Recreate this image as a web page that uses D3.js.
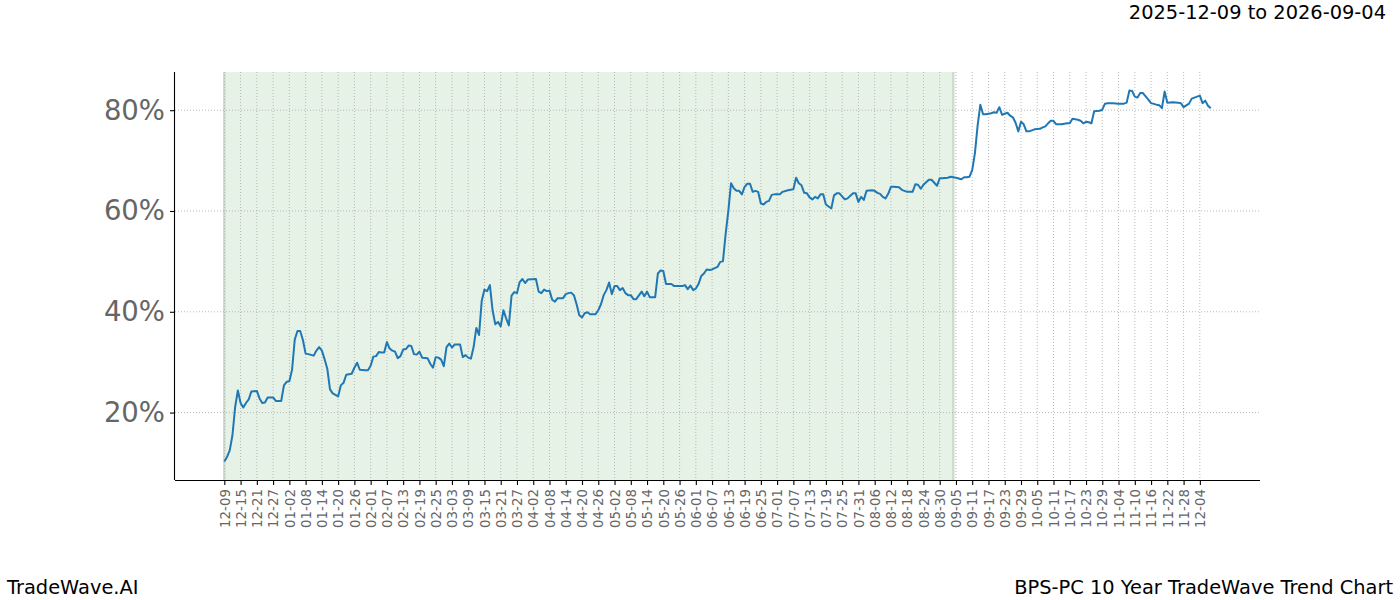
<!DOCTYPE html>
<html><head><meta charset="utf-8">
<script src="https://cdn.jsdelivr.net/npm/d3@7"></script>
<style>
body{margin:0;background:#fff}
svg{display:block}
text{font-family:"DejaVu Sans",sans-serif}
</style>
</head><body>
<svg id="c" width="1400" height="600"></svg>
<script>
const dates = [
"2025-12-09","2025-12-10","2025-12-11","2025-12-12","2025-12-13","2025-12-14","2025-12-15","2025-12-16","2025-12-17","2025-12-18",
"2025-12-19","2025-12-21","2025-12-22","2025-12-23","2025-12-24","2025-12-25","2025-12-27","2025-12-28","2025-12-30","2025-12-31",
"2026-01-01","2026-01-02","2026-01-03","2026-01-04","2026-01-05","2026-01-06","2026-01-07","2026-01-08","2026-01-09","2026-01-11",
"2026-01-12","2026-01-13","2026-01-14","2026-01-15","2026-01-16","2026-01-17","2026-01-18","2026-01-20","2026-01-21","2026-01-22",
"2026-01-23","2026-01-25","2026-01-26","2026-01-27","2026-01-28","2026-01-30","2026-01-31","2026-02-01","2026-02-02","2026-02-03",
"2026-02-04","2026-02-05","2026-02-06","2026-02-07","2026-02-08","2026-02-09","2026-02-10","2026-02-11","2026-02-12","2026-02-13",
"2026-02-14","2026-02-15","2026-02-16","2026-02-17","2026-02-18","2026-02-19","2026-02-20","2026-02-22","2026-02-23","2026-02-24",
"2026-02-25","2026-02-26","2026-02-27","2026-02-28","2026-03-01","2026-03-02","2026-03-03","2026-03-04","2026-03-06","2026-03-07",
"2026-03-08","2026-03-09","2026-03-10","2026-03-11","2026-03-12","2026-03-13","2026-03-14","2026-03-15","2026-03-16","2026-03-17",
"2026-03-18","2026-03-19","2026-03-20","2026-03-21","2026-03-22","2026-03-23","2026-03-24","2026-03-25","2026-03-26","2026-03-27",
"2026-03-28","2026-03-29","2026-03-30","2026-03-31","2026-04-03","2026-04-04","2026-04-05","2026-04-06","2026-04-07","2026-04-08",
"2026-04-09","2026-04-10","2026-04-11","2026-04-13","2026-04-14","2026-04-15","2026-04-16","2026-04-17","2026-04-18","2026-04-19",
"2026-04-20","2026-04-21","2026-04-22","2026-04-23","2026-04-25","2026-04-26","2026-04-27","2026-04-28","2026-04-29","2026-04-30",
"2026-05-01","2026-05-02","2026-05-03","2026-05-04","2026-05-05","2026-05-06","2026-05-07","2026-05-08","2026-05-09","2026-05-10",
"2026-05-12","2026-05-13","2026-05-14","2026-05-15","2026-05-17","2026-05-18","2026-05-19","2026-05-20","2026-05-21","2026-05-23",
"2026-05-24","2026-05-27","2026-05-28","2026-05-29","2026-05-30","2026-05-31","2026-06-01","2026-06-02","2026-06-03","2026-06-04",
"2026-06-05","2026-06-06","2026-06-07","2026-06-09","2026-06-10","2026-06-11","2026-06-12","2026-06-13","2026-06-14","2026-06-15",
"2026-06-16","2026-06-17","2026-06-18","2026-06-19","2026-06-20","2026-06-21","2026-06-22","2026-06-23","2026-06-24","2026-06-25",
"2026-06-26","2026-06-27","2026-06-28","2026-06-29","2026-06-30","2026-07-02","2026-07-03","2026-07-05","2026-07-07","2026-07-08",
"2026-07-09","2026-07-10","2026-07-11","2026-07-12","2026-07-13","2026-07-14","2026-07-15","2026-07-16","2026-07-17","2026-07-18",
"2026-07-19","2026-07-21","2026-07-22","2026-07-23","2026-07-24","2026-07-26","2026-07-27","2026-07-29","2026-07-30","2026-07-31",
"2026-08-01","2026-08-02","2026-08-03","2026-08-05","2026-08-06","2026-08-07","2026-08-08","2026-08-09","2026-08-10","2026-08-11",
"2026-08-12","2026-08-13","2026-08-15","2026-08-16","2026-08-17","2026-08-18","2026-08-20","2026-08-21","2026-08-22","2026-08-23",
"2026-08-24","2026-08-26","2026-08-27","2026-08-29","2026-08-30","2026-08-31","2026-09-02","2026-09-03","2026-09-05","2026-09-07",
"2026-09-08","2026-09-09","2026-09-10","2026-09-11","2026-09-12","2026-09-13","2026-09-14","2026-09-15","2026-09-16","2026-09-18",
"2026-09-19","2026-09-20","2026-09-21","2026-09-22","2026-09-23","2026-09-24","2026-09-25","2026-09-26","2026-09-27","2026-09-28",
"2026-09-29","2026-09-30","2026-10-01","2026-10-02","2026-10-04","2026-10-06","2026-10-07","2026-10-08","2026-10-09","2026-10-10",
"2026-10-11","2026-10-12","2026-10-14","2026-10-16","2026-10-17","2026-10-18","2026-10-20","2026-10-21","2026-10-22","2026-10-23",
"2026-10-24","2026-10-25","2026-10-26","2026-10-28","2026-10-29","2026-10-30","2026-10-31","2026-11-02","2026-11-04","2026-11-06",
"2026-11-07","2026-11-08","2026-11-09","2026-11-10","2026-11-11","2026-11-12","2026-11-13","2026-11-15","2026-11-16","2026-11-18",
"2026-11-19","2026-11-20","2026-11-21","2026-11-22","2026-11-24","2026-11-26","2026-11-27","2026-11-28","2026-11-30","2026-12-01",
"2026-12-02","2026-12-04","2026-12-05","2026-12-06","2026-12-07","2026-12-08"
];
const values = [
10.3,11.2,12.5,15.5,21.1,24.4,21.9,21.0,21.9,22.6,
24.2,24.3,22.8,21.9,22.0,23.0,23.0,22.3,22.3,25.4,
26.1,26.2,28.5,34.5,36.2,36.2,34.4,31.7,31.6,31.3,
32.3,33.0,32.3,30.6,28.7,24.6,23.8,23.2,25.4,25.9,
27.5,27.7,28.9,29.9,28.5,28.4,28.4,29.3,31.1,31.2,
32.0,31.9,31.9,34.0,32.7,32.3,32.1,30.8,31.2,32.5,
32.6,33.3,33.2,31.6,31.5,32.1,30.9,30.8,29.7,28.9,
31.0,30.9,30.5,29.2,33.0,33.7,32.9,33.5,33.5,31.0,
31.4,30.9,30.7,33.0,36.8,35.4,42.2,44.4,44.1,45.3,
40.3,37.5,38.0,37.1,40.3,38.7,37.3,43.2,43.9,43.7,
45.9,46.5,45.7,46.4,46.5,44.0,43.7,44.4,44.1,44.2,
42.4,42.0,42.7,42.7,43.5,43.7,43.8,43.3,41.5,39.3,
38.9,39.7,39.9,39.5,39.5,40.3,41.5,43.3,44.3,45.8,
43.5,45.1,45.1,44.3,44.7,43.7,43.3,43.3,42.5,42.5,
44.0,43.1,44.0,42.9,42.9,47.6,48.2,48.1,45.5,45.5,
45.1,45.1,45.3,44.5,45.2,44.3,44.6,45.5,47.1,47.6,
48.4,48.3,48.4,48.9,49.9,50.0,55.4,60.0,65.5,64.5,
64.0,64.0,63.3,64.8,65.4,65.4,63.8,64.0,63.8,61.5,
61.3,61.8,62.0,63.2,63.3,63.3,63.8,64.1,64.3,66.6,
65.5,65.1,63.6,63.5,62.7,62.3,62.8,62.5,63.3,63.3,
61.3,60.5,63.1,63.5,63.5,62.3,62.5,63.5,63.5,61.8,
62.8,62.2,64.0,64.1,64.0,63.6,63.4,62.8,62.5,63.4,
64.8,64.8,64.7,64.2,64.0,63.8,63.8,65.3,65.2,64.4,
65.2,66.2,66.2,65.0,66.5,66.5,66.6,66.8,66.6,66.3,
66.7,66.7,66.8,68.1,71.5,77.0,81.1,79.2,79.2,79.4,
79.6,79.5,80.6,79.1,79.3,79.5,78.9,78.6,77.5,75.8,
77.7,77.2,75.8,75.8,76.2,76.3,76.6,76.8,77.4,77.9,
77.9,77.2,77.2,77.4,77.4,78.3,78.1,77.9,77.4,77.7,
77.6,77.4,79.8,79.9,80.1,81.3,81.4,81.4,81.3,81.3,
81.5,83.9,83.8,82.7,82.5,83.4,83.4,82.1,81.4,81.1,
81.0,80.4,83.7,81.5,81.6,81.5,81.4,80.6,81.3,82.3,
82.5,82.9,81.4,81.9,80.9,80.4
];
const xTickDates = [
"2025-12-09","2025-12-15","2025-12-21","2025-12-27","2026-01-02","2026-01-08","2026-01-14","2026-01-20","2026-01-26",
"2026-02-01","2026-02-07","2026-02-13","2026-02-19","2026-02-25","2026-03-03","2026-03-09","2026-03-15","2026-03-21","2026-03-27",
"2026-04-02","2026-04-08","2026-04-14","2026-04-20","2026-04-26","2026-05-02","2026-05-08","2026-05-14","2026-05-20","2026-05-26",
"2026-06-01","2026-06-07","2026-06-13","2026-06-19","2026-06-25","2026-07-01","2026-07-07","2026-07-13","2026-07-19","2026-07-25",
"2026-07-31","2026-08-06","2026-08-12","2026-08-18","2026-08-24","2026-08-30","2026-09-05","2026-09-11","2026-09-17","2026-09-23",
"2026-09-29","2026-10-05","2026-10-11","2026-10-17","2026-10-23","2026-10-29","2026-11-04","2026-11-10","2026-11-16","2026-11-22",
"2026-11-28","2026-12-04"
];
const yTicks = [20, 40, 60, 80];
const shadeRange = ["2025-12-09", "2026-09-04"];
const titleText = "2025-12-09 to 2026-09-04";
const leftFooter = "TradeWave.AI";
const rightFooter = "BPS-PC 10 Year TradeWave Trend Chart";

const parse = d3.utcParse("%Y-%m-%d");
const data = dates.map((d, i) => ({date: parse(d), value: values[i]}));

const svg = d3.select("#c");
const L = 175, R = 1260, T = 72, B = 480;

const xExt = d3.extent(data, d => +d.date);
const xPad = (xExt[1] - xExt[0]) * 0.05;
const x = d3.scaleUtc().domain([new Date(xExt[0] - xPad), new Date(xExt[1] + xPad)]).range([L, R]);
const yExt = d3.extent(values);
const yPad = (yExt[1] - yExt[0]) * 0.05;
const y = d3.scaleLinear().domain([yExt[0] - yPad, yExt[1] + yPad]).range([B, T]);

// shaded span
const s0 = x(parse(shadeRange[0])), s1 = x(parse(shadeRange[1]));
svg.append("rect").attr("x", s0).attr("y", T).attr("width", s1 - s0).attr("height", B - T)
  .attr("fill", "rgb(230,242,230)");
[s0, s1].forEach(sx => {
  svg.append("line").attr("x1", sx).attr("x2", sx).attr("y1", T).attr("y2", B)
    .attr("stroke", "rgb(208,220,208)").attr("stroke-width", 2.5);
});

const tickDates = xTickDates.map(parse);
// grid
const grid = svg.append("g");
grid.selectAll("line.v").data(tickDates).enter().append("line")
  .attr("x1", d => x(d)).attr("x2", d => x(d)).attr("y1", T).attr("y2", B)
  .attr("stroke", "#a8a8a8").attr("stroke-width", 0.8).attr("stroke-dasharray", "1,2");
grid.selectAll("line.h").data(yTicks).enter().append("line")
  .attr("x1", L).attr("x2", R).attr("y1", d => y(d)).attr("y2", d => y(d))
  .attr("stroke", "#a8a8a8").attr("stroke-width", 0.8).attr("stroke-dasharray", "1,2");

// line
svg.append("path").datum(data)
  .attr("fill", "none").attr("stroke", "#1f77b4").attr("stroke-width", 2)
  .attr("stroke-linejoin", "round")
  .attr("d", d3.line().x(d => x(d.date)).y(d => y(d.value)));

// axes
const fmt = d3.utcFormat("%m-%d");
const xAxis = svg.append("g").attr("transform", `translate(0,${B})`)
  .call(d3.axisBottom(x).tickValues(tickDates).tickFormat(fmt).tickSize(5).tickSizeOuter(0));
xAxis.select(".domain").attr("stroke", "#000").attr("stroke-width", 1.1).attr("d", `M${L},0.5H${R}`);
xAxis.selectAll(".tick line").attr("stroke", "#000").attr("stroke-width", 1.1);
xAxis.selectAll(".tick text")
  .attr("fill", "#666").style("font-size", "13.4px")
  .attr("text-anchor", "end")
  .attr("transform", "translate(0,9) rotate(-90)")
  .attr("x", 0).attr("y", 0).attr("dy", "0.35em");

const yAxis = svg.append("g").attr("transform", `translate(${L},0)`)
  .call(d3.axisLeft(y).tickValues(yTicks).tickFormat(d => d + "%").tickSize(5).tickPadding(5).tickSizeOuter(0));
yAxis.select(".domain").attr("stroke", "#000").attr("stroke-width", 1.1).attr("d", `M-0.5,${T}V${B}`);
yAxis.selectAll(".tick line").attr("stroke", "#000").attr("stroke-width", 1.1);
yAxis.selectAll(".tick text").attr("fill", "#666").style("font-size", "27.5px");

// texts
svg.append("text").attr("x", 1386).attr("y", 19).attr("text-anchor", "end")
  .style("font-size", "19.4px").attr("fill", "#000").text(titleText);
svg.append("text").attr("x", 7).attr("y", 594)
  .style("font-size", "19.4px").attr("fill", "#000").text(leftFooter);
svg.append("text").attr("x", 1393).attr("y", 594).attr("text-anchor", "end")
  .style("font-size", "19.4px").attr("fill", "#000").text(rightFooter);
</script>
</body></html>
